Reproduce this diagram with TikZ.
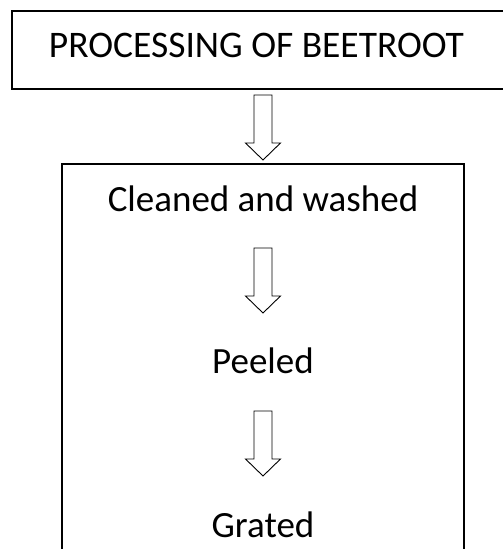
\documentclass[tikz,border=0pt]{standalone}
\usepackage{fontspec}
\setmainfont{Carlito}
\usetikzlibrary{positioning,calc}

\begin{document}
\begin{tikzpicture}[
  x=1pt, y=1pt,
  font=\fontsize{37}{44}\selectfont,
  frame/.style={draw, line width=2pt},
  steptext/.style={inner sep=0pt, anchor=base},
  downarrow/.pic={
    \draw[line width=0.9pt, miter limit=10]
      (-9,0) -- (9,0) -- (9,-48) -- (17.5,-48) -- (0,-65)
      -- (-17.5,-48) -- (-9,-48) -- cycle;
  },
]
\useasboundingbox (0,0) rectangle (503,549);

% heading, its box runs off the page on the right
\node[steptext] (title) at (256.5,491.5) {\fontsize{37.5}{44}\selectfont PROCESSING OF BEETROOT};
\draw[frame] (503,538) -- (12,538) -- (12,460) -- (503,460);

% steps
\node[steptext] (clean) at (263,337) {Cleaned and washed};
\node[steptext] (peel)  at (263,175) {Peeled};
\node[steptext] (grate) at (263,12)  {Grated};

% outer box round the steps, open at the bottom
\draw[frame] (62,0) -- (62,385) -- (464,385) -- (464,0);

% block arrows
\pic at (clean |- 0,454) {downarrow};
\pic at ($(clean.base)+(0,-36)$) {downarrow};
\pic at ($(peel.base)+(0,-37)$) {downarrow};

\end{tikzpicture}
\end{document}
